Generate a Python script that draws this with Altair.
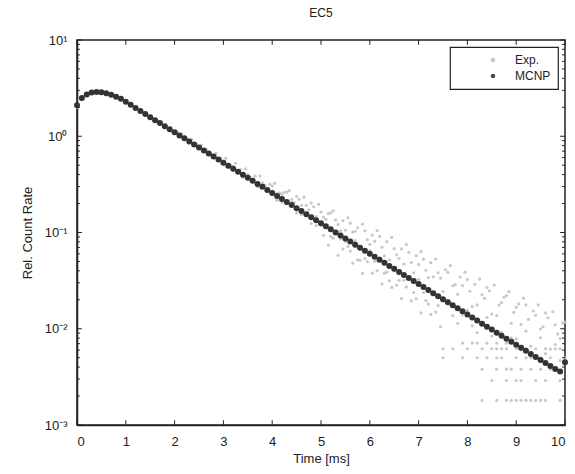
import altair as alt
import pandas as pd

# ---------------- data ----------------
t_grid = [i / 10 for i in range(101)]
t_half = [i / 10 + 0.05 for i in range(20, 100)]

mcnp_t = t_grid
mcnp_v = [2.1, 2.5, 2.72, 2.84, 2.88, 2.86, 2.8, 2.7, 2.58, 2.45,
          2.28, 2.12, 1.97, 1.83, 1.70, 1.58, 1.47, 1.37, 1.27, 1.18,
          1.10, 1.02, 0.951, 0.884, 0.822, 0.765, 0.711, 0.662, 0.615, 0.572,
          0.532, 0.495, 0.460, 0.428, 0.398, 0.370, 0.344, 0.320, 0.298, 0.277,
          0.258, 0.240, 0.223, 0.207, 0.193, 0.179, 0.167, 0.155, 0.144, 0.134,
          0.125, 0.116, 0.108, 0.100, 0.0930, 0.0865, 0.0804, 0.0748, 0.0696, 0.0647,
          0.0602, 0.0560, 0.0520, 0.0484, 0.0450, 0.0419, 0.0389, 0.0362, 0.0337, 0.0313,
          0.0291, 0.0271, 0.0252, 0.0234, 0.0218, 0.0203, 0.0188, 0.0175, 0.0163, 0.0152,
          0.0141, 0.0131, 0.0122, 0.0113, 0.0105, 0.00980, 0.00911, 0.00848, 0.00788, 0.00733,
          0.00682, 0.00634, 0.00590, 0.00548, 0.00510, 0.00474, 0.00441, 0.00410, 0.00381, 0.00360,
          0.00450]

# Exp. points near the curve (grid times)
exp_a_t = t_grid
exp_a_v = [2.0, 2.4, 2.7, 2.8, 2.9, 2.8, 2.75, 2.65, 2.55, 2.42,
           2.30, 2.10, 1.99, 1.81, 1.72, 1.56, 1.49, 1.35, 1.29, 1.17,
           1.11, 1.01, 0.96, 0.87, 0.83, 0.76, 0.72, 0.65, 0.63, 0.56,
           0.548, 0.475, 0.488, 0.424, 0.374, 0.40, 0.347, 0.298, 0.328, 0.269,
           0.268, 0.216, 0.25, 0.199, 0.205, 0.159, 0.192, 0.157, 0.124, 0.146,
           0.119, 0.137, 0.0907, 0.105, 0.0856, 0.106, 0.0643, 0.0823, 0.0675, 0.0537,
           0.0753, 0.0504, 0.0546, 0.0378, 0.0518, 0.0398, 0.0319, 0.0471, 0.0344, 0.0238,
           0.0326, 0.0238, 0.034, 0.0227, 0.0174, 0.0244, 0.0197, 0.0137, 0.0228, 0.014,
           0.0155, 0.0107, 0.0177, 0.0113, 0.0131, 0.0084, 0.0137, 0.00916, 0.00709, 0.0114,
           0.00784, 0.00602, 0.00944, 0.00658, 0.0052, 0.00806, 0.00551, 0.00402, 0.00686, 0.00468,
           0.00495]

# Exp. points, upper scatter (half-step times 2.05 .. 9.95)
exp_b_t = t_half
exp_b_v = [1.11, 1.06, 0.945, 0.93, 0.825, 0.81, 0.727, 0.651, 0.664, 0.59,
           0.59, 0.50, 0.524, 0.45, 0.46, 0.371, 0.385, 0.386, 0.31, 0.318,
           0.324, 0.259, 0.262, 0.272, 0.205, 0.221, 0.233, 0.172, 0.185, 0.196,
           0.144, 0.157, 0.168, 0.121, 0.133, 0.142, 0.101, 0.112, 0.122, 0.0842,
           0.0941, 0.105, 0.0703, 0.0803, 0.089, 0.0586, 0.0675, 0.075, 0.0488, 0.0574,
           0.0632, 0.0405, 0.0486, 0.0531, 0.0336, 0.041, 0.0453, 0.0287, 0.0345, 0.0387,
           0.0245, 0.029, 0.0328, 0.0207, 0.0248, 0.0284, 0.0176, 0.0212, 0.0243, 0.0148,
           0.0181, 0.0208, 0.0125, 0.0153, 0.0177, 0.0105, 0.013, 0.015, 0.00883, 0.0115]

# Exp. points, second scatter set (grid times 4.0 .. 10.0)
exp_c_t = [i / 10 for i in range(40, 101)]
exp_c_v = [0.304, 0.252, 0.207, 0.263, 0.22, 0.238, 0.154, 0.192, 0.202, 0.118,
           0.163, 0.118, 0.16, 0.135, 0.104, 0.0804, 0.125, 0.103, 0.0515, 0.104,
           0.065, 0.0812, 0.091, 0.0571, 0.0315, 0.0679, 0.0537, 0.0319, 0.0623, 0.0382,
           0.0466, 0.0528, 0.0181, 0.0346, 0.0382, 0.0193, 0.0385, 0.028, 0.0114, 0.0281,
           0.0324, 0.017, 0.00915, 0.0226, 0.0268, 0.0142, 0.0062, 0.0187, 0.0221, 0.00806,
           0.0167, 0.0111, 0.0177, 0.0050, 0.0138, 0.00995, 0.0146, 0.00615, 0.011, 0.0079,
           0.0117]

# Exp. points below the curve (5.05 .. 7.45)
exp_d_t = [i / 10 + 0.05 for i in range(50, 75)]
exp_d_v = [0.0936, 0.0739, 0.0874, 0.0579, 0.0673, 0.0717, 0.0481, 0.052, 0.0376, 0.0499,
           0.0378, 0.04, 0.0291, 0.0388, 0.0269, 0.0283, 0.0206, 0.0272, 0.0195, 0.0205,
           0.0146, 0.0196, 0.0141, 0.0149, 0.0105]

# low-count levels (quantised rows at late times)
row_levels = [0.0071, 0.0062, 0.0050, 0.0038, 0.0029, 0.0018]
row_times = [
    [7.9, 8.1, 8.2, 8.4, 8.6],
    [7.5, 7.7, 8.0, 8.3, 8.5, 8.7, 8.8, 9.0, 9.2, 9.4, 9.6, 9.8, 9.9],
    [7.5, 7.9, 8.2, 8.4, 8.6, 8.7, 9.0, 9.2, 9.5, 9.7],
    [8.3, 8.6, 8.8, 8.9, 9.1, 9.3, 9.5, 9.7],
    [8.5, 8.8, 9.0, 9.1, 9.4, 9.6, 9.9],
    [8.3, 8.6, 8.8, 8.9, 9.0, 9.1, 9.2, 9.3, 9.4, 9.5, 9.6, 9.9],
]

x_ticks = list(range(0, 11))
y_major = [0.001, 0.01, 0.1, 1, 10]
y_minor = [m * d for d in [0.001, 0.01, 0.1, 1] for m in range(2, 10)]

# ---------------- tables ----------------
exp_t, exp_v = [], []
for ts, vs in [(exp_a_t, exp_a_v), (exp_b_t, exp_b_v), (exp_c_t, exp_c_v), (exp_d_t, exp_d_v)]:
    exp_t += list(ts)
    exp_v += list(vs)
for lvl, ts in zip(row_levels, row_times):
    exp_t += ts
    exp_v += [lvl] * len(ts)

df_exp = pd.DataFrame({"t": exp_t, "v": exp_v, "s": "Exp."})
df_mc = pd.DataFrame({"t": mcnp_t, "v": mcnp_v, "s": "MCNP"})
df_xt = pd.DataFrame({"t": x_ticks})
df_ymaj = pd.DataFrame({"v": y_major})
df_ymin = pd.DataFrame({"v": y_minor})

FONT = "Liberation Sans"
xscale = alt.Scale(domain=[0, 10], nice=False, zero=False)
yscale = alt.Scale(type="log", domain=[0.001, 10], nice=False)
color = alt.Color("s:N", scale=alt.Scale(domain=["Exp.", "MCNP"], range=["#c2c2c2", "#333333"]),
                  legend=alt.Legend(title=None))

label_expr = ("datum.value >= 5 ? '10¹' : datum.value >= 0.5 ? '10⁰' : "
              "datum.value >= 0.05 ? '10⁻¹' : datum.value >= 0.005 ? '10⁻²' : '10⁻³'")

xaxis = alt.Axis(values=x_ticks, title="Time [ms]", tickSize=0, labelPadding=10,
                 titlePadding=4, grid=False, format="d")
yaxis = alt.Axis(values=y_major, title="Rel. Count Rate", tickSize=0, labelPadding=10,
                 titlePadding=10, grid=False, labelExpr=label_expr)

exp_layer = alt.Chart(df_exp).mark_circle(size=10, opacity=0.9).encode(
    x=alt.X("t:Q", scale=xscale, axis=xaxis),
    y=alt.Y("v:Q", scale=yscale, axis=yaxis),
    color=color,
)
mc_layer = alt.Chart(df_mc).mark_circle(size=36, opacity=1).encode(
    x=alt.X("t:Q", scale=xscale),
    y=alt.Y("v:Q", scale=yscale),
    color=color,
)

tick_col = "#222222"
bot = alt.Chart(df_xt).mark_rule(color=tick_col, strokeWidth=1).encode(
    x=alt.X("t:Q", scale=xscale), y=alt.datum(0.001), y2=alt.datum(0.00112))
top = alt.Chart(df_xt).mark_rule(color=tick_col, strokeWidth=1).encode(
    x=alt.X("t:Q", scale=xscale), y=alt.datum(8.9), y2=alt.datum(10))
left_maj = alt.Chart(df_ymaj).mark_rule(color=tick_col, strokeWidth=1).encode(
    y=alt.Y("v:Q", scale=yscale), x=alt.datum(0), x2=alt.datum(0.1))
right_maj = alt.Chart(df_ymaj).mark_rule(color=tick_col, strokeWidth=1).encode(
    y=alt.Y("v:Q", scale=yscale), x=alt.datum(9.9), x2=alt.datum(10))
left_min = alt.Chart(df_ymin).mark_rule(color=tick_col, strokeWidth=1).encode(
    y=alt.Y("v:Q", scale=yscale), x=alt.datum(0), x2=alt.datum(0.06))
right_min = alt.Chart(df_ymin).mark_rule(color=tick_col, strokeWidth=1).encode(
    y=alt.Y("v:Q", scale=yscale), x=alt.datum(9.94), x2=alt.datum(10))

chart = alt.layer(exp_layer, mc_layer, bot, top, left_maj, right_maj, left_min, right_min).properties(
    width=488, height=385,
    title=alt.Title("EC5", fontSize=12, fontWeight="normal", font=FONT, color="#222", offset=14),
    autosize=alt.AutoSizeParams(type="none"),
    padding={"left": 77, "top": 40, "right": 10, "bottom": 49},
).configure_view(
    stroke="#222222", strokeWidth=1.5
).configure_axis(
    labelFont=FONT, titleFont=FONT, labelFontSize=13, titleFontSize=13,
    labelColor="#222", titleColor="#222", titleFontWeight="normal",
    domainColor="#222", domainWidth=1.5,
).configure_legend(
    orient="top-right", offset=7, strokeColor="#222", fillColor="white",
    padding=7, labelFont=FONT, labelFontSize=12, labelColor="#222",
    symbolType="circle", symbolSize=20, symbolOffset=30, labelOffset=16,
    rowPadding=4, strokeWidth=1.2,
)

chart.save("out.html", embed_options={"renderer": "svg", "actions": False})
